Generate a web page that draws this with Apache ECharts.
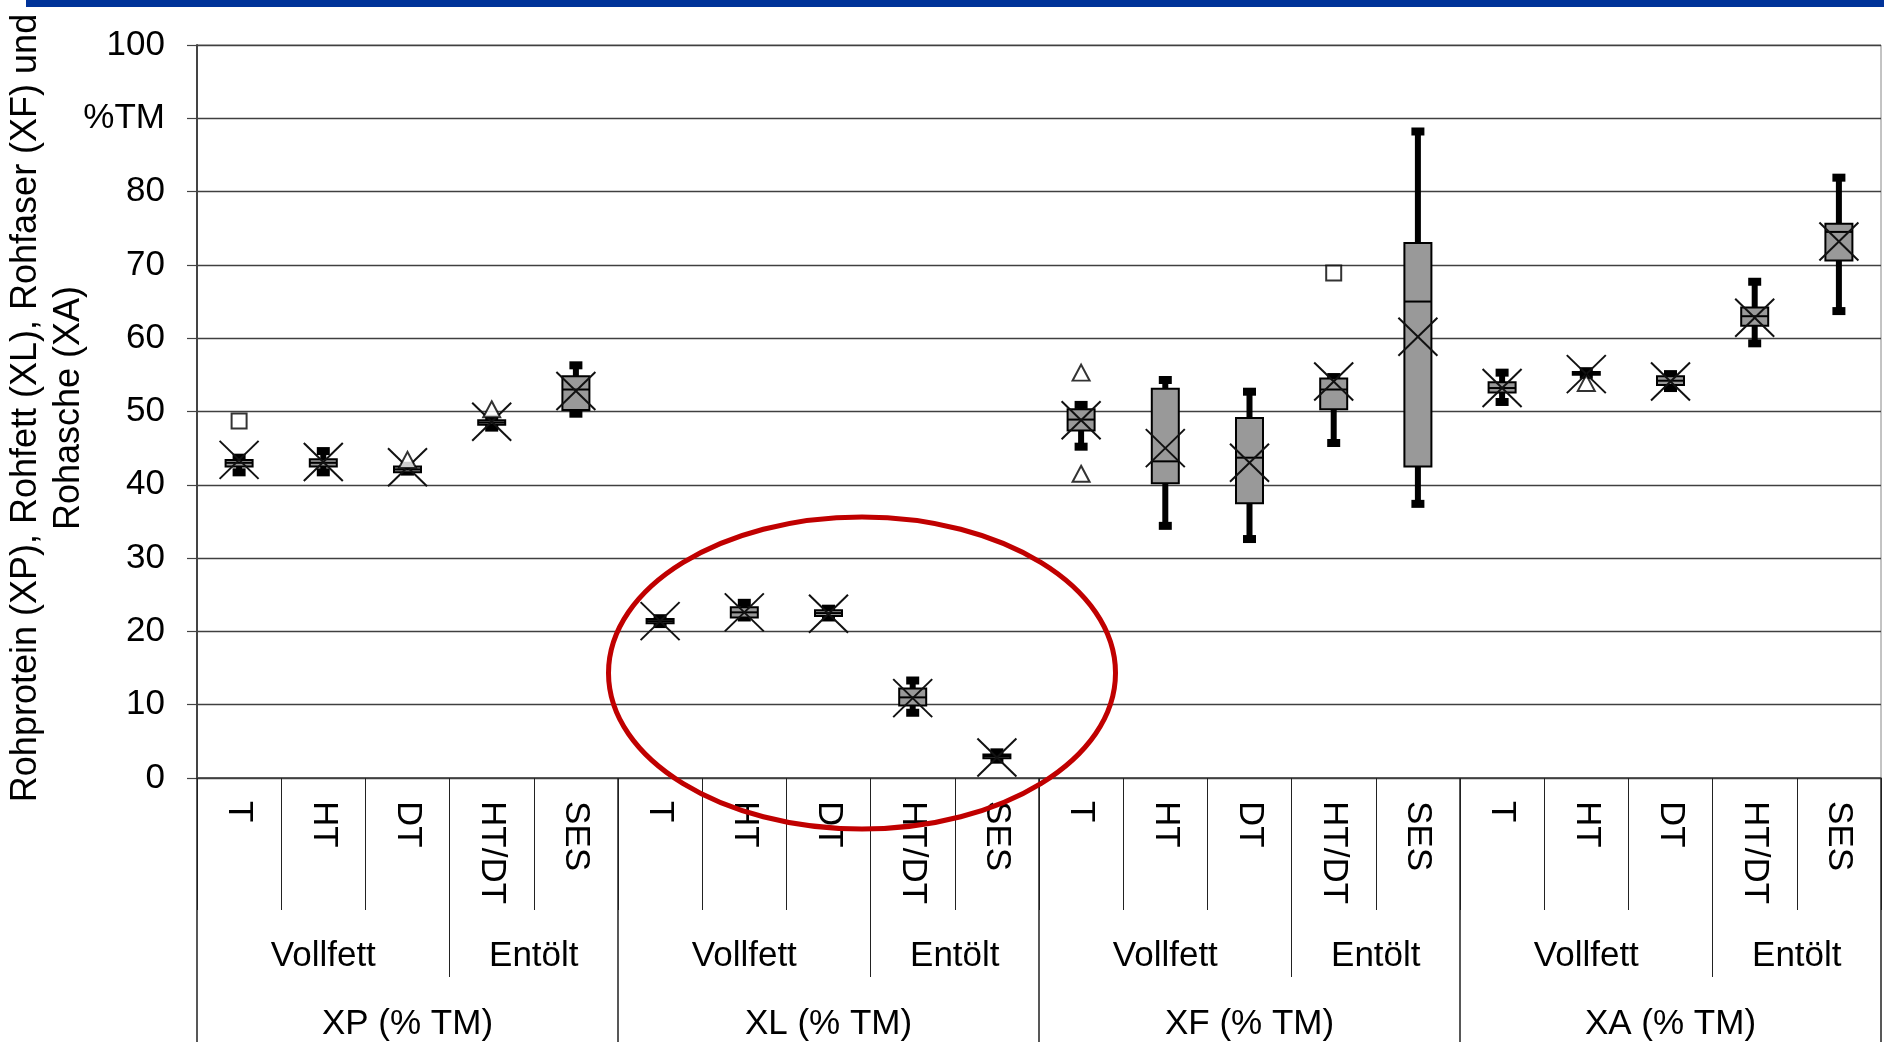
<!DOCTYPE html>
<html>
<head>
<meta charset="utf-8">
<script src="https://cdn.jsdelivr.net/npm/echarts@6/dist/echarts.min.js"></script>
<style>
html,body{margin:0;padding:0;background:#fff;}
#chart{width:1884px;height:1042px;}
</style>
</head>
<body>
<div id="chart"></div>
<script>
// ---- data ----
var groups = ['XP (% TM)', 'XL (% TM)', 'XF (% TM)', 'XA (% TM)'];
var subgroups = ['Vollfett', 'Entölt'];
var subgroupSizes = [3, 2];
var methods = ['T', 'HT', 'DT', 'HT/DT', 'SES'];

var mins    = [41.7, 41.7, 41.8, 47.8, 49.7,  21.0, 21.9, 21.9,  8.9, 2.5,  45.2, 34.4, 32.6, 45.7, 37.4,  51.3, 55.0, 53.2, 59.3, 63.7];
var q1s     = [42.5, 42.5, 41.7, 48.2, 50.2,  21.1, 21.9, 22.1,  9.9, 2.7,  47.4, 40.2, 37.5, 50.3, 42.5,  52.6, 55.0, 53.6, 61.7, 70.6];
var medians = [43.0, 43.0, 42.1, 48.5, 53.0,  21.4, 22.6, 22.5, 11.0, 3.0,  48.9, 43.2, 43.7, 53.0, 65.0,  53.2, 55.2, 54.2, 63.0, 74.5];
var q3s     = [43.4, 43.5, 42.5, 48.8, 54.8,  21.7, 23.3, 22.9, 12.2, 3.2,  50.3, 53.1, 49.1, 54.5, 73.0,  54.0, 55.4, 54.8, 64.2, 75.6];
var maxs    = [43.7, 44.6, 42.6, 49.0, 56.3,  21.8, 23.9, 23.1, 13.3, 3.5,  50.9, 54.3, 52.7, 54.7, 88.2,  55.3, 55.5, 55.1, 67.7, 81.9];
var means   = [43.4, 43.1, 42.4, 48.6, 52.8,  21.4, 22.6, 22.4, 10.9, 2.8,  48.8, 45.0, 43.0, 54.1, 60.2,  53.2, 55.1, 54.1, 62.8, 73.2];

var squareOutliers   = [[0, 48.7], [13, 68.9]];
var triangleOutliers = [[2, 43.4], [3, 50.3], [10, 55.3], [10, 41.5], [16, 53.9]];

var yTickLabels = {90: '%TM'};
var yTitle = 'Rohprotein (XP), Rohfett (XL), Rohfaser (XF) und\nRohasche (XA)';

// ---- build what the library needs ----
var categories = [];
groups.forEach(function () { methods.forEach(function (m) { categories.push(m); }); });

var perGroup = methods.length * 2; // half-slots per group
var nHalf = groups.length * perGroup + 1;
var level2Data = [], level3Data = [];
for (var k = 0; k < nHalf; k++) { level2Data.push(''); level3Data.push(''); }
var level2Ticks = {}, level3Ticks = {};
groups.forEach(function (g, gi) {
  var base = gi * perGroup;
  level3Data[base + methods.length] = g;
  level3Ticks[base] = true;
  var off = 0;
  subgroups.forEach(function (s, si) {
    var span = subgroupSizes[si] * 2;
    level2Data[base + off + span / 2] = s;
    if (off > 0) level2Ticks[base + off] = true;
    off += span;
  });
});
level3Ticks[nHalf - 1] = true;

var boxData = categories.map(function (c, i) {
  return [i, mins[i], q1s[i], medians[i], q3s[i], maxs[i], means[i]];
});

var FONT = '"Liberation Sans", Arial, sans-serif';

function renderBox(params, api) {
  var i = api.value(0);
  var pMin = api.coord([i, api.value(1)]);
  var pQ1 = api.coord([i, api.value(2)]);
  var pMed = api.coord([i, api.value(3)]);
  var pQ3 = api.coord([i, api.value(4)]);
  var pMax = api.coord([i, api.value(5)]);
  var pMean = api.coord([i, api.value(6)]);
  var x = pMin[0];
  var bw = 27, cw = 13, ch = 8, xs = 19.5, ys = 19;
  return {
    type: 'group',
    children: [
      {type: 'line', shape: {x1: x, y1: pMax[1], x2: x, y2: pMin[1]}, style: {stroke: '#000', lineWidth: 6}},
      {type: 'rect', shape: {x: x - cw / 2, y: pMax[1] - ch / 2, width: cw, height: ch}, style: {fill: '#000'}},
      {type: 'rect', shape: {x: x - cw / 2, y: pMin[1] - ch / 2, width: cw, height: ch}, style: {fill: '#000'}},
      {type: 'rect', shape: {x: x - bw / 2, y: pQ3[1], width: bw, height: pQ1[1] - pQ3[1]},
        style: {fill: '#999999', stroke: '#000', lineWidth: 2}},
      {type: 'line', shape: {x1: x - bw / 2, y1: pMed[1], x2: x + bw / 2, y2: pMed[1]}, style: {stroke: '#000', lineWidth: 2}},
      {type: 'line', shape: {x1: x - xs, y1: pMean[1] - ys, x2: x + xs, y2: pMean[1] + ys}, style: {stroke: '#111', lineWidth: 2}},
      {type: 'line', shape: {x1: x - xs, y1: pMean[1] + ys, x2: x + xs, y2: pMean[1] - ys}, style: {stroke: '#111', lineWidth: 2}}
    ]
  };
}

var chart = echarts.init(document.getElementById('chart'), null, {renderer: 'canvas'});
chart.setOption({
  animation: false,
  backgroundColor: '#fff',
  grid: {left: 197, right: 2, top: 45, bottom: 264, show: true, borderColor: '#888', borderWidth: 1},
  xAxis: [
    {
      type: 'category', data: categories, position: 'bottom', boundaryGap: true,
      axisLine: {show: true, lineStyle: {color: '#404040', width: 1.5}},
      axisTick: {show: true, interval: 0, length: 132, lineStyle: {color: '#222', width: 1}},
      axisLabel: {interval: 0, rotate: -90, margin: 23, fontSize: 35, fontFamily: FONT, color: '#000'},
      splitLine: {show: false}
    },
    {
      type: 'category', data: level2Data, position: 'bottom', boundaryGap: false,
      axisLine: {show: false},
      axisTick: {show: true, length: 199, interval: function (idx) { return !!level2Ticks[idx]; }, lineStyle: {color: '#222', width: 1}},
      axisLabel: {interval: 0, margin: 161, fontSize: 35, lineHeight: 35, fontFamily: FONT, color: '#000'},
      splitLine: {show: false}
    },
    {
      type: 'category', data: level3Data, position: 'bottom', boundaryGap: false,
      axisLine: {show: false},
      axisTick: {show: true, length: 264, interval: function (idx) { return !!level3Ticks[idx]; }, lineStyle: {color: '#222', width: 1.5}},
      axisLabel: {interval: 0, margin: 229, fontSize: 35, lineHeight: 35, fontFamily: FONT, color: '#000'},
      splitLine: {show: false}
    }
  ],
  yAxis: {
    type: 'value', min: 0, max: 100, interval: 10,
    axisLine: {show: true, lineStyle: {color: '#444', width: 2}},
    axisTick: {show: true, length: 10, lineStyle: {color: '#444', width: 1.2}},
    axisLabel: {
      margin: 32, fontSize: 35, fontFamily: FONT, color: '#000',
      formatter: function (v) { return yTickLabels[v] !== undefined ? yTickLabels[v] : String(v); }
    },
    splitLine: {show: true, lineStyle: {color: '#404040', width: 1.3}}
  },
  series: [
    {
      type: 'custom', name: 'box', xAxisIndex: 0, yAxisIndex: 0,
      renderItem: renderBox, data: boxData,
      encode: {x: 0, y: [1, 2, 3, 4, 5, 6]}, clip: false, z: 2
    },
    {
      type: 'scatter', name: 'outlier-square', xAxisIndex: 0, data: squareOutliers,
      symbol: 'rect', symbolSize: 15, z: 3,
      itemStyle: {color: '#fff', borderColor: '#000', borderWidth: 2}
    },
    {
      type: 'scatter', name: 'outlier-triangle', xAxisIndex: 0, data: triangleOutliers,
      symbol: 'triangle', symbolSize: [17, 16], z: 3,
      itemStyle: {color: '#fff', borderColor: '#000', borderWidth: 2}
    }
  ],
  graphic: [
    {type: 'rect', z: 100, shape: {x: 26, y: 0, width: 1858, height: 7}, style: {fill: '#003399'}},
    {
      type: 'text', z: 50, x: 48, y: 408, rotation: Math.PI / 2,
      style: {text: yTitle, fontSize: 36, fontFamily: FONT, fill: '#000',
        align: 'center', verticalAlign: 'middle', textAlign: 'center', textVerticalAlign: 'middle', lineHeight: 43}
    },
    {
      type: 'ellipse', z: 60, shape: {cx: 862, cy: 673, rx: 253.5, ry: 156},
      style: {fill: null, stroke: '#C00000', lineWidth: 5}
    }
  ]
});
</script>
</body>
</html>
